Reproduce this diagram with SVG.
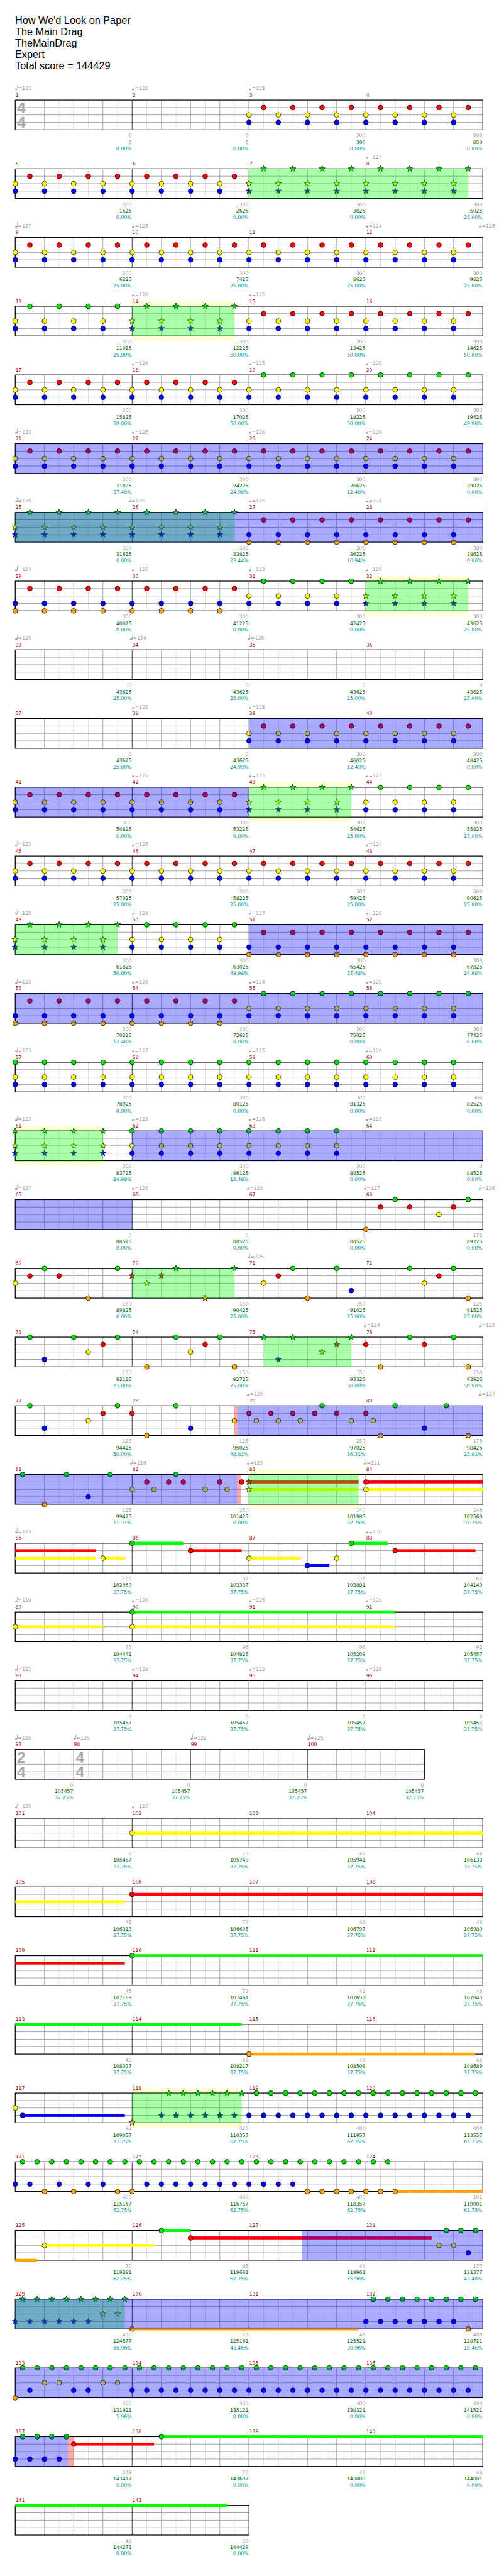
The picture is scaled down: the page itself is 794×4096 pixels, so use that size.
<svg xmlns="http://www.w3.org/2000/svg" width="794" height="4096" viewBox="0 0 794 4096">
<style>
text{font-family:"DejaVu Sans",sans-serif;font-size:10px}
.ti{font-family:"Liberation Sans",Arial,sans-serif;font-size:21px;fill:#000}
.ts{font-family:"Liberation Sans",Arial,sans-serif;font-size:32px;font-weight:bold;fill:#a8a8a8;text-anchor:middle}
.t{fill:#a0a0a0}
.m{fill:#990000}
.s{fill:#a0a0a0;text-anchor:end}
.c{fill:#006400;text-anchor:end}
.p{fill:#009999;text-anchor:end}
.G{fill:#00e000;stroke:#000;stroke-width:.9}
.R{fill:#f00;stroke:#000;stroke-width:.9}
.Y{fill:#ff0;stroke:#000;stroke-width:.9}
.B{fill:#00f;stroke:#000;stroke-width:.9}
.O{fill:#ffa500;stroke:#000;stroke-width:.9}
.l1{stroke:#dcdcdc;stroke-width:1;fill:none}
.l2{stroke:#a0a0a0;stroke-width:1.2;fill:none}
.l3{stroke:#000;stroke-width:1;fill:none}
.bd{fill:none;stroke:#000;stroke-width:1.6}
.og{fill:#0f0;fill-opacity:.333}
.ob{fill:#00f;fill-opacity:.333}
.or{fill:#f00;fill-opacity:.333}
.py{fill:#ffffd2}
.bG{fill:#0f0}.bR{fill:#f00}.bY{fill:#ff0}.bB{fill:#00f}.bO{fill:#ffa500}
</style>
<defs>
<circle id="g" r="5" class="G"/>
<circle id="r" cy="15.25" r="5" class="R"/>
<circle id="y" cy="30.5" r="5" class="Y"/>
<circle id="b" cy="45.75" r="5" class="B"/>
<circle id="o" cy="61" r="5" class="O"/>
<polygon id="sg" class="G" points="0,-6.5 1.6,-2.2 6.2,-2 2.6,0.8 3.8,5.3 0,2.7 -3.8,5.3 -2.6,0.8 -6.2,-2 -1.6,-2.2"/>
<polygon id="sr" class="R" transform="translate(0 15.25)" points="0,-6.5 1.6,-2.2 6.2,-2 2.6,0.8 3.8,5.3 0,2.7 -3.8,5.3 -2.6,0.8 -6.2,-2 -1.6,-2.2"/>
<polygon id="sy" class="Y" transform="translate(0 30.5)" points="0,-6.5 1.6,-2.2 6.2,-2 2.6,0.8 3.8,5.3 0,2.7 -3.8,5.3 -2.6,0.8 -6.2,-2 -1.6,-2.2"/>
<polygon id="sb" class="B" transform="translate(0 45.75)" points="0,-6.5 1.6,-2.2 6.2,-2 2.6,0.8 3.8,5.3 0,2.7 -3.8,5.3 -2.6,0.8 -6.2,-2 -1.6,-2.2"/>
<polygon id="so" class="O" transform="translate(0 61)" points="0,-6.5 1.6,-2.2 6.2,-2 2.6,0.8 3.8,5.3 0,2.7 -3.8,5.3 -2.6,0.8 -6.2,-2 -1.6,-2.2"/>
<g id="pA"><use href="#y"/><use href="#b"/><use href="#r" x="30"/><use href="#y" x="60"/><use href="#b" x="60"/><use href="#r" x="90"/><use href="#y" x="120"/><use href="#b" x="120"/><use href="#r" x="150"/><use href="#y" x="180"/><use href="#b" x="180"/><use href="#r" x="210"/></g>
<g id="pAG"><use href="#y"/><use href="#b"/><use href="#g" x="30"/><use href="#y" x="60"/><use href="#b" x="60"/><use href="#g" x="90"/><use href="#y" x="120"/><use href="#b" x="120"/><use href="#g" x="150"/><use href="#y" x="180"/><use href="#b" x="180"/><use href="#g" x="210"/></g>
<g id="sAG"><use href="#sy"/><use href="#sb"/><use href="#sg" x="30"/><use href="#sy" x="60"/><use href="#sb" x="60"/><use href="#sg" x="90"/><use href="#sy" x="120"/><use href="#sb" x="120"/><use href="#sg" x="150"/><use href="#sy" x="180"/><use href="#sb" x="180"/><use href="#sg" x="210"/></g>
<g id="pC"><use href="#b"/><use href="#o"/><use href="#r" x="30"/><use href="#b" x="60"/><use href="#o" x="60"/><use href="#r" x="90"/><use href="#b" x="120"/><use href="#o" x="120"/><use href="#r" x="150"/><use href="#b" x="180"/><use href="#o" x="180"/><use href="#r" x="210"/></g>
<g id="pD"><use href="#g"/><use href="#y"/><use href="#b"/><use href="#g" x="60"/><use href="#y" x="60"/><use href="#b" x="60"/><use href="#g" x="120"/><use href="#y" x="120"/><use href="#b" x="120"/><use href="#g" x="180"/><use href="#y" x="180"/><use href="#b" x="180"/></g>
<g id="sD"><use href="#sg"/><use href="#sy"/><use href="#sb"/><use href="#sg" x="60"/><use href="#sy" x="60"/><use href="#sb" x="60"/><use href="#sg" x="120"/><use href="#sy" x="120"/><use href="#sb" x="120"/><use href="#sg" x="180"/><use href="#sy" x="180"/><use href="#sb" x="180"/></g>
<g id="pG8"><use href="#g" x="15"/><use href="#g" x="45"/><use href="#g" x="75"/><use href="#g" x="105"/><use href="#g" x="135"/><use href="#g" x="165"/><use href="#g" x="195"/><use href="#g" x="225"/></g>
<g id="sG8"><use href="#sg" x="15"/><use href="#sg" x="45"/><use href="#sg" x="75"/><use href="#sg" x="105"/><use href="#sg" x="135"/><use href="#sg" x="165"/><use href="#sg" x="195"/><use href="#sg" x="225"/></g>
<g id="pE"><use href="#pG8"/><use href="#b"/><use href="#b" x="30"/><use href="#b" x="60"/><use href="#b" x="90"/><use href="#b" x="120"/><use href="#b" x="150"/><use href="#b" x="180"/><use href="#b" x="210"/></g>
<g id="grid">
<rect width="960" height="61" fill="#fff"/>
<path class="l1" d="M30 0v61M90 0v61M150 0v61M210 0v61M270 0v61M330 0v61M390 0v61M450 0v61M510 0v61M570 0v61M630 0v61M690 0v61M750 0v61M810 0v61M870 0v61M930 0v61"/>
<path class="l2" d="M60 0v61M120 0v61M180 0v61M300 0v61M360 0v61M420 0v61M540 0v61M600 0v61M660 0v61M780 0v61M840 0v61M900 0v61M0 15.25H960M0 30.5H960M0 45.75H960"/>
<path class="l3" d="M240 0v61M480 0v61M720 0v61"/>
<rect class="bd" width="960" height="61"/>
</g>
<g id="grid25">
<rect width="840" height="61" fill="#fff"/>
<path class="l1" d="M30 0v61M90 0v61M150 0v61M210 0v61M270 0v61M330 0v61M390 0v61M450 0v61M510 0v61M570 0v61M630 0v61M690 0v61M750 0v61M810 0v61"/>
<path class="l2" d="M60 0v61M180 0v61M240 0v61M300 0v61M420 0v61M480 0v61M540 0v61M660 0v61M720 0v61M780 0v61M0 15.25H840M0 30.5H840M0 45.75H840"/>
<path class="l3" d="M120 0v61M360 0v61M600 0v61"/>
<rect class="bd" width="840" height="61"/>
</g>
<g id="grid36">
<rect width="480" height="61" fill="#fff"/>
<path class="l1" d="M30 0v61M90 0v61M150 0v61M210 0v61M270 0v61M330 0v61M390 0v61M450 0v61"/>
<path class="l2" d="M60 0v61M120 0v61M180 0v61M300 0v61M360 0v61M420 0v61M0 15.25H480M0 30.5H480M0 45.75H480"/>
<path class="l3" d="M240 0v61"/>
<rect class="bd" width="480" height="61"/>
</g>
<g id="tm" fill="#a0a0a0"><ellipse cx="2" cy="-22" rx="2.3" ry="1.8"/><rect x="3.6" y="-31" width="0.9" height="9"/></g>
</defs>
<g transform="scale(0.775)">
<g id="title">
<text class="ti" x="31" y="49.5">How We'd Look on Paper</text>
<text class="ti" x="31" y="72.8">The Main Drag</text>
<text class="ti" x="31" y="96">TheMainDrag</text>
<text class="ti" x="31" y="119.3">Expert</text>
<text class="ti" x="31" y="142.5">Total score = 144429</text>
</g>

<g id="row1" transform="translate(31.3 205.3)">
<use href="#grid"/>
<text class="ts" x="12.5" y="27">4</text><text class="ts" x="12.5" y="57">4</text>
<use href="#pA" x="480"/><use href="#pA" x="720"/>
<text class="m" x="0.5" y="-7">1</text><text class="m" x="240.5" y="-7">2</text><text class="m" x="480.5" y="-7">3</text><text class="m" x="720.5" y="-7">4</text>
<use href="#tm"/><text class="t" x="5.5" y="-20.5">=123</text><use href="#tm" x="240"/><text class="t" x="245.5" y="-20.5">=122</text><use href="#tm" x="480"/><text class="t" x="485.5" y="-20.5">=125</text>
<text class="s" x="239" y="76.3">0</text><text class="c" x="239" y="89.7">0</text><text class="p" x="239" y="102.8">0.00%</text>
<text class="s" x="479" y="76.3">0</text><text class="c" x="479" y="89.7">0</text><text class="p" x="479" y="102.8">0.00%</text>
<text class="s" x="719" y="76.3">300</text><text class="c" x="719" y="89.7">300</text><text class="p" x="719" y="102.8">0.00%</text>
<text class="s" x="959" y="76.3">300</text><text class="c" x="959" y="89.7">850</text><text class="p" x="959" y="102.8">0.00%</text>
</g>

<g id="row2" transform="translate(31.3 346.3)">
<use href="#grid"/>
<use href="#pA"/><use href="#pA" x="240"/><use href="#sAG" x="480"/><use href="#sAG" x="720"/>
<rect class="og" x="480" width="450" height="61"/>
<text class="m" x="0.5" y="-7">5</text><text class="m" x="240.5" y="-7">6</text><text class="m" x="480.5" y="-7">7</text><text class="m" x="720.5" y="-7">8</text>
<use href="#tm" x="720"/><text class="t" x="725.5" y="-20.5">=124</text>
<text class="s" x="239" y="76.3">300</text><text class="c" x="239" y="89.7">1625</text><text class="p" x="239" y="102.8">0.00%</text>
<text class="s" x="479" y="76.3">300</text><text class="c" x="479" y="89.7">2625</text><text class="p" x="479" y="102.8">0.00%</text>
<text class="s" x="719" y="76.3">300</text><text class="c" x="719" y="89.7">3825</text><text class="p" x="719" y="102.8">0.00%</text>
<text class="s" x="959" y="76.3">300</text><text class="c" x="959" y="89.7">5025</text><text class="p" x="959" y="102.8">25.00%</text>
</g>

<g id="row3" transform="translate(31.3 487.3)">
<use href="#grid"/>
<use href="#pA"/><use href="#pA" x="240"/><use href="#pA" x="480"/><use href="#pA" x="720"/>
<text class="m" x="0.5" y="-7">9</text><text class="m" x="240.5" y="-7">10</text><text class="m" x="480.5" y="-7">11</text><text class="m" x="720.5" y="-7">12</text>
<use href="#tm"/><text class="t" x="5.5" y="-20.5">=127</text><use href="#tm" x="240"/><text class="t" x="245.5" y="-20.5">=125</text><use href="#tm" x="720"/><text class="t" x="725.5" y="-20.5">=124</text><use href="#tm" x="952"/><text class="t" x="957.5" y="-20.5">=125</text>
<text class="s" x="239" y="76.3">300</text><text class="c" x="239" y="89.7">6225</text><text class="p" x="239" y="102.8">25.00%</text>
<text class="s" x="479" y="76.3">300</text><text class="c" x="479" y="89.7">7425</text><text class="p" x="479" y="102.8">25.00%</text>
<text class="s" x="719" y="76.3">300</text><text class="c" x="719" y="89.7">8625</text><text class="p" x="719" y="102.8">25.00%</text>
<text class="s" x="959" y="76.3">300</text><text class="c" x="959" y="89.7">9825</text><text class="p" x="959" y="102.8">25.00%</text>
</g>

<g id="row4" transform="translate(31.3 628.3)">
<rect class="py" x="240" y="-10" width="210" height="81"/>
<use href="#grid"/>
<use href="#pAG"/><use href="#sAG" x="240"/><use href="#pA" x="480"/><use href="#pA" x="720"/>
<rect class="og" x="240" width="210" height="61"/>
<text class="m" x="0.5" y="-7">13</text><text class="m" x="240.5" y="-7">14</text><text class="m" x="480.5" y="-7">15</text><text class="m" x="720.5" y="-7">16</text>
<use href="#tm" x="240"/><text class="t" x="245.5" y="-20.5">=126</text><use href="#tm" x="480"/><text class="t" x="485.5" y="-20.5">=125</text>
<text class="s" x="239" y="76.3">300</text><text class="c" x="239" y="89.7">11025</text><text class="p" x="239" y="102.8">25.00%</text>
<text class="s" x="479" y="76.3">300</text><text class="c" x="479" y="89.7">12225</text><text class="p" x="479" y="102.8">50.00%</text>
<text class="s" x="719" y="76.3">300</text><text class="c" x="719" y="89.7">13425</text><text class="p" x="719" y="102.8">50.00%</text>
<text class="s" x="959" y="76.3">300</text><text class="c" x="959" y="89.7">14625</text><text class="p" x="959" y="102.8">50.00%</text>
</g>

<g id="row5" transform="translate(31.3 769.3)">
<use href="#grid"/>
<use href="#pA"/><use href="#pA" x="240"/><use href="#pAG" x="480"/><use href="#pAG" x="720"/>
<text class="m" x="0.5" y="-7">17</text><text class="m" x="240.5" y="-7">18</text><text class="m" x="480.5" y="-7">19</text><text class="m" x="720.5" y="-7">20</text>
<use href="#tm" x="240"/><text class="t" x="245.5" y="-20.5">=126</text><use href="#tm" x="480"/><text class="t" x="485.5" y="-20.5">=125</text><use href="#tm" x="720"/><text class="t" x="725.5" y="-20.5">=126</text>
<text class="s" x="239" y="76.3">300</text><text class="c" x="239" y="89.7">15825</text><text class="p" x="239" y="102.8">50.00%</text>
<text class="s" x="479" y="76.3">300</text><text class="c" x="479" y="89.7">17025</text><text class="p" x="479" y="102.8">50.00%</text>
<text class="s" x="719" y="76.3">300</text><text class="c" x="719" y="89.7">18225</text><text class="p" x="719" y="102.8">50.00%</text>
<text class="s" x="959" y="76.3">300</text><text class="c" x="959" y="89.7">19425</text><text class="p" x="959" y="102.8">49.98%</text>
</g>

<g id="row6" transform="translate(31.3 910.3)">
<use href="#grid"/>
<use href="#pA"/><use href="#pA" x="240"/><use href="#pA" x="480"/><use href="#pA" x="720"/>
<rect class="ob" width="960" height="61"/>
<text class="m" x="0.5" y="-7">21</text><text class="m" x="240.5" y="-7">22</text><text class="m" x="480.5" y="-7">23</text><text class="m" x="720.5" y="-7">24</text>
<use href="#tm"/><text class="t" x="5.5" y="-20.5">=123</text><use href="#tm" x="240"/><text class="t" x="245.5" y="-20.5">=125</text><use href="#tm" x="480"/><text class="t" x="485.5" y="-20.5">=126</text><use href="#tm" x="720"/><text class="t" x="725.5" y="-20.5">=126</text>
<text class="s" x="239" y="76.3">300</text><text class="c" x="239" y="89.7">21825</text><text class="p" x="239" y="102.8">37.48%</text>
<text class="s" x="479" y="76.3">300</text><text class="c" x="479" y="89.7">24225</text><text class="p" x="479" y="102.8">24.98%</text>
<text class="s" x="719" y="76.3">300</text><text class="c" x="719" y="89.7">26625</text><text class="p" x="719" y="102.8">12.48%</text>
<text class="s" x="959" y="76.3">300</text><text class="c" x="959" y="89.7">29025</text><text class="p" x="959" y="102.8">0.00%</text>
</g>

<g id="row7" transform="translate(31.3 1051.3)">
<use href="#grid"/>
<use href="#sAG"/><use href="#sAG" x="240"/><use href="#pC" x="480"/><use href="#pC" x="720"/>
<rect class="og" width="450" height="61"/>
<rect class="ob" width="960" height="61"/>
<text class="m" x="0.5" y="-7">25</text><text class="m" x="240.5" y="-7">26</text><text class="m" x="480.5" y="-7">27</text><text class="m" x="720.5" y="-7">28</text>
<use href="#tm"/><text class="t" x="5.5" y="-20.5">=125</text><use href="#tm" x="233"/><text class="t" x="238.5" y="-20.5">=125</text><use href="#tm" x="480"/><text class="t" x="485.5" y="-20.5">=125</text><use href="#tm" x="720"/><text class="t" x="725.5" y="-20.5">=124</text>
<text class="s" x="239" y="76.3">300</text><text class="c" x="239" y="89.7">31625</text><text class="p" x="239" y="102.8">0.00%</text>
<text class="s" x="479" y="76.3">300</text><text class="c" x="479" y="89.7">33825</text><text class="p" x="479" y="102.8">23.44%</text>
<text class="s" x="719" y="76.3">300</text><text class="c" x="719" y="89.7">36225</text><text class="p" x="719" y="102.8">10.94%</text>
<text class="s" x="959" y="76.3">300</text><text class="c" x="959" y="89.7">38625</text><text class="p" x="959" y="102.8">0.00%</text>
</g>

<g id="row8" transform="translate(31.3 1192.3)">
<rect class="py" x="720" y="-10" width="210" height="81"/>
<use href="#grid"/>
<use href="#pC"/><use href="#pC" x="240"/><use href="#pAG" x="480"/><use href="#sAG" x="720"/>
<rect class="og" x="720" width="210" height="61"/>
<text class="m" x="0.5" y="-7">29</text><text class="m" x="240.5" y="-7">30</text><text class="m" x="480.5" y="-7">31</text><text class="m" x="720.5" y="-7">32</text>
<use href="#tm"/><text class="t" x="5.5" y="-20.5">=124</text><use href="#tm" x="240"/><text class="t" x="245.5" y="-20.5">=125</text><use href="#tm" x="480"/><text class="t" x="485.5" y="-20.5">=123</text><use href="#tm" x="720"/><text class="t" x="725.5" y="-20.5">=126</text>
<text class="s" x="239" y="76.3">300</text><text class="c" x="239" y="89.7">40025</text><text class="p" x="239" y="102.8">0.00%</text>
<text class="s" x="479" y="76.3">300</text><text class="c" x="479" y="89.7">41225</text><text class="p" x="479" y="102.8">0.00%</text>
<text class="s" x="719" y="76.3">300</text><text class="c" x="719" y="89.7">42425</text><text class="p" x="719" y="102.8">0.00%</text>
<text class="s" x="959" y="76.3">300</text><text class="c" x="959" y="89.7">43625</text><text class="p" x="959" y="102.8">25.00%</text>
</g>

<g id="row9" transform="translate(31.3 1333.3)">
<use href="#grid"/>
<text class="m" x="0.5" y="-7">33</text><text class="m" x="240.5" y="-7">34</text><text class="m" x="480.5" y="-7">35</text><text class="m" x="720.5" y="-7">36</text>
<use href="#tm"/><text class="t" x="5.5" y="-20.5">=125</text><use href="#tm" x="236"/><text class="t" x="241.5" y="-20.5">=124</text><use href="#tm" x="478"/><text class="t" x="483.5" y="-20.5">=126</text>
<text class="s" x="239" y="76.3">0</text><text class="c" x="239" y="89.7">43625</text><text class="p" x="239" y="102.8">25.00%</text>
<text class="s" x="479" y="76.3">0</text><text class="c" x="479" y="89.7">43625</text><text class="p" x="479" y="102.8">25.00%</text>
<text class="s" x="719" y="76.3">0</text><text class="c" x="719" y="89.7">43625</text><text class="p" x="719" y="102.8">25.00%</text>
<text class="s" x="959" y="76.3">0</text><text class="c" x="959" y="89.7">43625</text><text class="p" x="959" y="102.8">25.00%</text>
</g>

<g id="row10" transform="translate(31.3 1474.3)">
<use href="#grid"/>
<use href="#pA" x="480"/><use href="#pA" x="720"/>
<rect class="ob" x="480" width="480" height="61"/>
<text class="m" x="0.5" y="-7">37</text><text class="m" x="240.5" y="-7">38</text><text class="m" x="480.5" y="-7">39</text><text class="m" x="720.5" y="-7">40</text>
<use href="#tm" x="240"/><text class="t" x="245.5" y="-20.5">=125</text><use href="#tm" x="480"/><text class="t" x="485.5" y="-20.5">=125</text>
<text class="s" x="239" y="76.3">0</text><text class="c" x="239" y="89.7">43625</text><text class="p" x="239" y="102.8">25.00%</text>
<text class="s" x="479" y="76.3">0</text><text class="c" x="479" y="89.7">43625</text><text class="p" x="479" y="102.8">24.99%</text>
<text class="s" x="719" y="76.3">300</text><text class="c" x="719" y="89.7">46025</text><text class="p" x="719" y="102.8">12.49%</text>
<text class="s" x="959" y="76.3">300</text><text class="c" x="959" y="89.7">48425</text><text class="p" x="959" y="102.8">0.00%</text>
</g>

<g id="row11" transform="translate(31.3 1615.3)">
<rect class="py" x="480" y="-10" width="210" height="81"/>
<use href="#grid"/>
<use href="#pA"/><use href="#pA" x="240"/><use href="#sAG" x="480"/><use href="#pAG" x="720"/>
<rect class="og" x="480" width="210" height="61"/>
<rect class="ob" width="480" height="61"/>
<text class="m" x="0.5" y="-7">41</text><text class="m" x="240.5" y="-7">42</text><text class="m" x="480.5" y="-7">43</text><text class="m" x="720.5" y="-7">44</text>
<use href="#tm" x="240"/><text class="t" x="245.5" y="-20.5">=125</text><use href="#tm" x="480"/><text class="t" x="485.5" y="-20.5">=125</text><use href="#tm" x="720"/><text class="t" x="725.5" y="-20.5">=127</text>
<text class="s" x="239" y="76.3">300</text><text class="c" x="239" y="89.7">50825</text><text class="p" x="239" y="102.8">0.00%</text>
<text class="s" x="479" y="76.3">300</text><text class="c" x="479" y="89.7">53225</text><text class="p" x="479" y="102.8">0.00%</text>
<text class="s" x="719" y="76.3">300</text><text class="c" x="719" y="89.7">54625</text><text class="p" x="719" y="102.8">25.00%</text>
<text class="s" x="959" y="76.3">300</text><text class="c" x="959" y="89.7">55825</text><text class="p" x="959" y="102.8">25.00%</text>
</g>

<g id="row12" transform="translate(31.3 1756.3)">
<use href="#grid"/>
<use href="#pA"/><use href="#pA" x="240"/><use href="#pA" x="480"/><use href="#pA" x="720"/>
<text class="m" x="0.5" y="-7">45</text><text class="m" x="240.5" y="-7">46</text><text class="m" x="480.5" y="-7">47</text><text class="m" x="720.5" y="-7">48</text>
<use href="#tm"/><text class="t" x="5.5" y="-20.5">=123</text><use href="#tm" x="240"/><text class="t" x="245.5" y="-20.5">=125</text><use href="#tm" x="720"/><text class="t" x="725.5" y="-20.5">=124</text>
<text class="s" x="239" y="76.3">300</text><text class="c" x="239" y="89.7">57025</text><text class="p" x="239" y="102.8">25.00%</text>
<text class="s" x="479" y="76.3">300</text><text class="c" x="479" y="89.7">58225</text><text class="p" x="479" y="102.8">25.00%</text>
<text class="s" x="719" y="76.3">300</text><text class="c" x="719" y="89.7">59425</text><text class="p" x="719" y="102.8">25.00%</text>
<text class="s" x="959" y="76.3">300</text><text class="c" x="959" y="89.7">60625</text><text class="p" x="959" y="102.8">25.00%</text>
</g>

<g id="row13" transform="translate(31.3 1897.3)">
<use href="#grid"/>
<use href="#sAG"/><use href="#pAG" x="240"/><use href="#pC" x="480"/><use href="#pC" x="720"/>
<rect class="og" width="210" height="61"/>
<rect class="ob" x="480" width="480" height="61"/>
<text class="m" x="0.5" y="-7">49</text><text class="m" x="240.5" y="-7">50</text><text class="m" x="480.5" y="-7">51</text><text class="m" x="720.5" y="-7">52</text>
<use href="#tm"/><text class="t" x="5.5" y="-20.5">=125</text><use href="#tm" x="240"/><text class="t" x="245.5" y="-20.5">=124</text><use href="#tm" x="480"/><text class="t" x="485.5" y="-20.5">=127</text><use href="#tm" x="720"/><text class="t" x="725.5" y="-20.5">=126</text>
<text class="s" x="239" y="76.3">300</text><text class="c" x="239" y="89.7">61825</text><text class="p" x="239" y="102.8">50.00%</text>
<text class="s" x="479" y="76.3">300</text><text class="c" x="479" y="89.7">63025</text><text class="p" x="479" y="102.8">49.98%</text>
<text class="s" x="719" y="76.3">300</text><text class="c" x="719" y="89.7">65425</text><text class="p" x="719" y="102.8">37.48%</text>
<text class="s" x="959" y="76.3">300</text><text class="c" x="959" y="89.7">67825</text><text class="p" x="959" y="102.8">24.98%</text>
</g>

<g id="row14" transform="translate(31.3 2038.3)">
<use href="#grid"/>
<use href="#pC"/><use href="#pC" x="240"/><use href="#pAG" x="480"/><use href="#pAG" x="720"/>
<rect class="ob" width="960" height="61"/>
<text class="m" x="0.5" y="-7">53</text><text class="m" x="240.5" y="-7">54</text><text class="m" x="480.5" y="-7">55</text><text class="m" x="720.5" y="-7">56</text>
<use href="#tm"/><text class="t" x="5.5" y="-20.5">=125</text><use href="#tm" x="240"/><text class="t" x="245.5" y="-20.5">=126</text><use href="#tm" x="480"/><text class="t" x="485.5" y="-20.5">=124</text><use href="#tm" x="720"/><text class="t" x="725.5" y="-20.5">=125</text>
<text class="s" x="239" y="76.3">300</text><text class="c" x="239" y="89.7">70225</text><text class="p" x="239" y="102.8">12.48%</text>
<text class="s" x="479" y="76.3">300</text><text class="c" x="479" y="89.7">72625</text><text class="p" x="479" y="102.8">0.00%</text>
<text class="s" x="719" y="76.3">300</text><text class="c" x="719" y="89.7">75025</text><text class="p" x="719" y="102.8">0.00%</text>
<text class="s" x="959" y="76.3">300</text><text class="c" x="959" y="89.7">77425</text><text class="p" x="959" y="102.8">0.00%</text>
</g>

<g id="row15" transform="translate(31.3 2179.3)">
<use href="#grid"/>
<use href="#pD"/><use href="#pD" x="240"/><use href="#pD" x="480"/><use href="#pD" x="720"/>
<text class="m" x="0.5" y="-7">57</text><text class="m" x="240.5" y="-7">58</text><text class="m" x="480.5" y="-7">59</text><text class="m" x="720.5" y="-7">60</text>
<use href="#tm"/><text class="t" x="5.5" y="-20.5">=123</text><use href="#tm" x="240"/><text class="t" x="245.5" y="-20.5">=127</text><use href="#tm" x="480"/><text class="t" x="485.5" y="-20.5">=125</text><use href="#tm" x="720"/><text class="t" x="725.5" y="-20.5">=128</text>
<text class="s" x="239" y="76.3">300</text><text class="c" x="239" y="89.7">78925</text><text class="p" x="239" y="102.8">0.00%</text>
<text class="s" x="479" y="76.3">300</text><text class="c" x="479" y="89.7">80125</text><text class="p" x="479" y="102.8">0.00%</text>
<text class="s" x="719" y="76.3">300</text><text class="c" x="719" y="89.7">81325</text><text class="p" x="719" y="102.8">0.00%</text>
<text class="s" x="959" y="76.3">300</text><text class="c" x="959" y="89.7">82525</text><text class="p" x="959" y="102.8">0.00%</text>
</g>

<g id="row16" transform="translate(31.3 2320.3)">
<rect class="py" x="0" y="-10" width="180" height="81"/>
<use href="#grid"/>
<use href="#sD"/><use href="#pD" x="240"/><use href="#pD" x="480"/>
<rect class="og" width="180" height="61"/>
<rect class="ob" x="240" width="720" height="61"/>
<text class="m" x="0.5" y="-7">61</text><text class="m" x="240.5" y="-7">62</text><text class="m" x="480.5" y="-7">63</text><text class="m" x="720.5" y="-7">64</text>
<use href="#tm"/><text class="t" x="5.5" y="-20.5">=123</text><use href="#tm" x="240"/><text class="t" x="245.5" y="-20.5">=123</text><use href="#tm" x="480"/><text class="t" x="485.5" y="-20.5">=126</text><use href="#tm" x="720"/><text class="t" x="725.5" y="-20.5">=126</text>
<text class="s" x="239" y="76.3">300</text><text class="c" x="239" y="89.7">83725</text><text class="p" x="239" y="102.8">24.98%</text>
<text class="s" x="479" y="76.3">300</text><text class="c" x="479" y="89.7">86125</text><text class="p" x="479" y="102.8">12.48%</text>
<text class="s" x="719" y="76.3">300</text><text class="c" x="719" y="89.7">88525</text><text class="p" x="719" y="102.8">0.00%</text>
<text class="s" x="959" y="76.3">0</text><text class="c" x="959" y="89.7">88525</text><text class="p" x="959" y="102.8">0.00%</text>
</g>

<g id="row17" transform="translate(31.3 2461.3)">
<use href="#grid"/>
<use href="#o" x="720"/><use href="#r" x="750"/><use href="#g" x="780"/><use href="#r" x="810"/><use href="#y" x="870"/><use href="#r" x="900"/><use href="#g" x="930"/>
<rect class="ob" width="240" height="61"/>
<text class="m" x="0.5" y="-7">65</text><text class="m" x="240.5" y="-7">66</text><text class="m" x="480.5" y="-7">67</text><text class="m" x="720.5" y="-7">68</text>
<use href="#tm"/><text class="t" x="5.5" y="-20.5">=127</text><use href="#tm" x="240"/><text class="t" x="245.5" y="-20.5">=125</text><use href="#tm" x="476"/><text class="t" x="481.5" y="-20.5">=128</text><use href="#tm" x="716"/><text class="t" x="721.5" y="-20.5">=127</text><use href="#tm" x="952"/><text class="t" x="957.5" y="-20.5">=126</text>
<text class="s" x="239" y="76.3">0</text><text class="c" x="239" y="89.7">88525</text><text class="p" x="239" y="102.8">0.00%</text>
<text class="s" x="479" y="76.3">0</text><text class="c" x="479" y="89.7">88525</text><text class="p" x="479" y="102.8">0.00%</text>
<text class="s" x="719" y="76.3">0</text><text class="c" x="719" y="89.7">88525</text><text class="p" x="719" y="102.8">0.00%</text>
<text class="s" x="959" y="76.3">175</text><text class="c" x="959" y="89.7">89225</text><text class="p" x="959" y="102.8">0.00%</text>
</g>

<g id="row18" transform="translate(31.3 2602.3)">
<use href="#grid"/>
<use href="#y"/><use href="#r" x="30"/><use href="#g" x="60"/><use href="#r" x="90"/><use href="#o" x="150"/><use href="#g" x="210"/>
<use href="#sr" x="240"/><use href="#sy" x="270"/><use href="#sr" x="300"/><use href="#sg" x="330"/><use href="#so" x="390"/><use href="#sg" x="450"/>
<use href="#y" x="510"/><use href="#r" x="540"/><use href="#g" x="570"/><use href="#o" x="600"/><use href="#g" x="660"/><use href="#b" x="690"/>
<use href="#g" x="810"/><use href="#y" x="840"/><use href="#r" x="870"/><use href="#g" x="900"/><use href="#o" x="930"/>
<rect class="og" x="240" width="210" height="61"/>
<text class="m" x="0.5" y="-7">69</text><text class="m" x="240.5" y="-7">70</text><text class="m" x="480.5" y="-7">71</text><text class="m" x="720.5" y="-7">72</text>
<use href="#tm" x="478"/><text class="t" x="483.5" y="-20.5">=125</text>
<text class="s" x="239" y="76.3">150</text><text class="c" x="239" y="89.7">89825</text><text class="p" x="239" y="102.8">0.00%</text>
<text class="s" x="479" y="76.3">150</text><text class="c" x="479" y="89.7">90425</text><text class="p" x="479" y="102.8">25.00%</text>
<text class="s" x="719" y="76.3">150</text><text class="c" x="719" y="89.7">91025</text><text class="p" x="719" y="102.8">25.00%</text>
<text class="s" x="959" y="76.3">125</text><text class="c" x="959" y="89.7">91525</text><text class="p" x="959" y="102.8">25.00%</text>
</g>

<g id="row19" transform="translate(31.3 2743.3)">
<use href="#grid"/>
<use href="#g" x="30"/><use href="#b" x="60"/><use href="#g" x="120"/><use href="#y" x="150"/><use href="#r" x="180"/><use href="#g" x="210"/>
<use href="#o" x="270"/><use href="#g" x="330"/><use href="#y" x="360"/><use href="#r" x="390"/><use href="#g" x="420"/><use href="#o" x="450"/>
<use href="#sg" x="510"/><use href="#sb" x="540"/><use href="#sg" x="570"/><use href="#sy" x="630"/><use href="#sr" x="660"/><use href="#sg" x="690"/>
<use href="#r" x="720"/><use href="#o" x="750"/><use href="#g" x="810"/><use href="#r" x="840"/><use href="#g" x="900"/><use href="#o" x="930"/>
<rect class="og" x="510" width="180" height="61"/>
<text class="m" x="0.5" y="-7">73</text><text class="m" x="240.5" y="-7">74</text><text class="m" x="480.5" y="-7">75</text><text class="m" x="720.5" y="-7">76</text>
<use href="#tm" x="716"/><text class="t" x="721.5" y="-20.5">=124</text><use href="#tm" x="952"/><text class="t" x="957.5" y="-20.5">=125</text>
<text class="s" x="239" y="76.3">150</text><text class="c" x="239" y="89.7">92125</text><text class="p" x="239" y="102.8">25.00%</text>
<text class="s" x="479" y="76.3">150</text><text class="c" x="479" y="89.7">92725</text><text class="p" x="479" y="102.8">25.00%</text>
<text class="s" x="719" y="76.3">150</text><text class="c" x="719" y="89.7">93325</text><text class="p" x="719" y="102.8">50.00%</text>
<text class="s" x="959" y="76.3">150</text><text class="c" x="959" y="89.7">93925</text><text class="p" x="959" y="102.8">50.00%</text>
</g>

<g id="row20" transform="translate(31.3 2884.3)">
<use href="#grid"/>
<use href="#g" x="30"/><use href="#b" x="60"/><use href="#y" x="150"/><use href="#r" x="180"/><use href="#g" x="210"/>
<use href="#r" x="240"/><use href="#o" x="270"/><use href="#g" x="330"/><use href="#b" x="360"/><use href="#y" x="450"/>
<use href="#r" x="480"/><use href="#y" x="495"/><use href="#r" x="525"/><use href="#y" x="540"/><use href="#r" x="570"/><use href="#y" x="585"/><use href="#r" x="615"/><use href="#g" x="630"/><use href="#r" x="660"/><use href="#y" x="690"/>
<use href="#r" x="720"/><use href="#y" x="735"/><use href="#o" x="750"/><use href="#g" x="780"/><use href="#b" x="840"/><use href="#g" x="885"/><use href="#o" x="930"/>
<rect class="or" x="450" width="6" height="61"/>
<rect class="ob" x="456" width="504" height="61"/>
<text class="m" x="0.5" y="-7">77</text><text class="m" x="240.5" y="-7">78</text><text class="m" x="480.5" y="-7">79</text><text class="m" x="720.5" y="-7">80</text>
<use href="#tm" x="476"/><text class="t" x="481.5" y="-20.5">=126</text><use href="#tm" x="952"/><text class="t" x="957.5" y="-20.5">=127</text>
<text class="s" x="239" y="76.3">125</text><text class="c" x="239" y="89.7">94425</text><text class="p" x="239" y="102.8">50.00%</text>
<text class="s" x="479" y="76.3">125</text><text class="c" x="479" y="89.7">95025</text><text class="p" x="479" y="102.8">48.81%</text>
<text class="s" x="719" y="76.3">250</text><text class="c" x="719" y="89.7">97025</text><text class="p" x="719" y="102.8">36.31%</text>
<text class="s" x="959" y="76.3">175</text><text class="c" x="959" y="89.7">98425</text><text class="p" x="959" y="102.8">23.81%</text>
</g>

<g id="row21" transform="translate(31.3 3025.3)">
<rect class="py" x="480" y="-10" width="225" height="81"/>
<use href="#grid"/>
<rect class="bR" x="480" y="12.25" width="225" height="6"/><rect class="bY" x="480" y="27.5" width="225" height="6"/>
<rect class="bR" x="720" y="12.25" width="240" height="6"/><rect class="bY" x="720" y="27.5" width="240" height="6"/>
<use href="#g" x="15"/><use href="#o" x="60"/><use href="#g" x="105"/><use href="#b" x="150"/><use href="#g" x="195"/>
<use href="#y" x="240"/><use href="#r" x="270"/><use href="#y" x="285"/><use href="#r" x="315"/><use href="#g" x="330"/><use href="#r" x="345"/><use href="#y" x="390"/><use href="#r" x="420"/><use href="#y" x="435"/><use href="#r" x="465"/>
<use href="#sr" x="480"/><use href="#sy" x="480"/><use href="#r" x="720"/><use href="#y" x="720"/>
<rect class="ob" width="456" height="61"/>
<rect class="or" x="456" width="8" height="61"/>
<rect class="og" x="480" width="225" height="61"/>
<text class="m" x="0.5" y="-7">81</text><text class="m" x="240.5" y="-7">82</text><text class="m" x="480.5" y="-7">83</text><text class="m" x="720.5" y="-7">84</text>
<use href="#tm" x="236"/><text class="t" x="241.5" y="-20.5">=126</text><use href="#tm" x="476"/><text class="t" x="481.5" y="-20.5">=125</text><use href="#tm" x="716"/><text class="t" x="721.5" y="-20.5">=121</text>
<text class="s" x="239" y="76.3">125</text><text class="c" x="239" y="89.7">99425</text><text class="p" x="239" y="102.8">11.31%</text>
<text class="s" x="479" y="76.3">250</text><text class="c" x="479" y="89.7">101425</text><text class="p" x="479" y="102.8">0.00%</text>
<text class="s" x="719" y="76.3">140</text><text class="c" x="719" y="89.7">101985</text><text class="p" x="719" y="102.8">37.75%</text>
<text class="s" x="959" y="76.3">146</text><text class="c" x="959" y="89.7">102569</text><text class="p" x="959" y="102.8">37.75%</text>
</g>

<g id="row22" transform="translate(31.3 3166.3)">
<use href="#grid"/>
<rect class="bR" x="0" y="12.25" width="165" height="6"/><rect class="bY" x="0" y="27.5" width="165" height="6"/>
<rect class="bY" x="180" y="27.5" width="45" height="6"/><rect class="bG" x="240" y="-3" width="105" height="6"/>
<rect class="bR" x="360" y="12.25" width="105" height="6"/><rect class="bY" x="480" y="27.5" width="105" height="6"/>
<rect class="bB" x="600" y="42.75" width="45" height="6"/><rect class="bG" x="690" y="-3" width="75" height="6"/>
<rect class="bR" x="780" y="12.25" width="165" height="6"/>
<use href="#y" x="180"/><use href="#g" x="240"/><use href="#r" x="360"/><use href="#y" x="480"/><use href="#b" x="600"/><use href="#y" x="660"/><use href="#g" x="690"/><use href="#r" x="780"/>
<text class="m" x="0.5" y="-7">85</text><text class="m" x="240.5" y="-7">86</text><text class="m" x="480.5" y="-7">87</text><text class="m" x="720.5" y="-7">88</text>
<use href="#tm"/><text class="t" x="5.5" y="-20.5">=125</text><use href="#tm" x="720"/><text class="t" x="725.5" y="-20.5">=130</text>
<text class="s" x="239" y="76.3">100</text><text class="c" x="239" y="89.7">102969</text><text class="p" x="239" y="102.8">37.75%</text>
<text class="s" x="479" y="76.3">92</text><text class="c" x="479" y="89.7">103337</text><text class="p" x="479" y="102.8">37.75%</text>
<text class="s" x="719" y="76.3">136</text><text class="c" x="719" y="89.7">103881</text><text class="p" x="719" y="102.8">37.75%</text>
<text class="s" x="959" y="76.3">67</text><text class="c" x="959" y="89.7">104149</text><text class="p" x="959" y="102.8">37.75%</text>
</g>

<g id="row23" transform="translate(31.3 3307.3)">
<use href="#grid"/>
<rect class="bY" x="0" y="27.5" width="180" height="6"/><rect class="bG" x="240" y="-3" width="540" height="6"/><rect class="bY" x="240" y="27.5" width="540" height="6"/>
<use href="#y"/><use href="#g" x="240"/><use href="#y" x="240"/>
<text class="m" x="0.5" y="-7">89</text><text class="m" x="240.5" y="-7">90</text><text class="m" x="480.5" y="-7">91</text><text class="m" x="720.5" y="-7">92</text>
<use href="#tm"/><text class="t" x="5.5" y="-20.5">=119</text><use href="#tm" x="240"/><text class="t" x="245.5" y="-20.5">=126</text><use href="#tm" x="480"/><text class="t" x="485.5" y="-20.5">=125</text><use href="#tm" x="720"/><text class="t" x="725.5" y="-20.5">=128</text>
<text class="s" x="239" y="76.3">73</text><text class="c" x="239" y="89.7">104441</text><text class="p" x="239" y="102.8">37.75%</text>
<text class="s" x="479" y="76.3">96</text><text class="c" x="479" y="89.7">104825</text><text class="p" x="479" y="102.8">37.75%</text>
<text class="s" x="719" y="76.3">96</text><text class="c" x="719" y="89.7">105209</text><text class="p" x="719" y="102.8">37.75%</text>
<text class="s" x="959" y="76.3">62</text><text class="c" x="959" y="89.7">105457</text><text class="p" x="959" y="102.8">37.75%</text>
</g>

<g id="row24" transform="translate(31.3 3448.3)">
<use href="#grid"/>
<text class="m" x="0.5" y="-7">93</text><text class="m" x="240.5" y="-7">94</text><text class="m" x="480.5" y="-7">95</text><text class="m" x="720.5" y="-7">96</text>
<use href="#tm"/><text class="t" x="5.5" y="-20.5">=122</text><use href="#tm" x="240"/><text class="t" x="245.5" y="-20.5">=128</text><use href="#tm" x="480"/><text class="t" x="485.5" y="-20.5">=122</text><use href="#tm" x="720"/><text class="t" x="725.5" y="-20.5">=129</text>
<text class="s" x="239" y="76.3">0</text><text class="c" x="239" y="89.7">105457</text><text class="p" x="239" y="102.8">37.75%</text>
<text class="s" x="479" y="76.3">0</text><text class="c" x="479" y="89.7">105457</text><text class="p" x="479" y="102.8">37.75%</text>
<text class="s" x="719" y="76.3">0</text><text class="c" x="719" y="89.7">105457</text><text class="p" x="719" y="102.8">37.75%</text>
<text class="s" x="959" y="76.3">0</text><text class="c" x="959" y="89.7">105457</text><text class="p" x="959" y="102.8">37.75%</text>
</g>

<g id="row25" transform="translate(31.3 3589.3)">
<use href="#grid25"/>
<text class="ts" x="12.5" y="27">2</text><text class="ts" x="12.5" y="57">4</text>
<text class="ts" x="133" y="27">4</text><text class="ts" x="133" y="57">4</text>
<text class="m" x="0.5" y="-7">97</text><text class="m" x="120.5" y="-7">98</text><text class="m" x="360.5" y="-7">99</text><text class="m" x="600.5" y="-7">100</text>
<use href="#tm"/><text class="t" x="5.5" y="-20.5">=125</text><use href="#tm" x="120"/><text class="t" x="125.5" y="-20.5">=125</text><use href="#tm" x="360"/><text class="t" x="365.5" y="-20.5">=122</text><use href="#tm" x="600"/><text class="t" x="605.5" y="-20.5">=125</text>
<text class="s" x="119" y="76.3">0</text><text class="c" x="119" y="89.7">105457</text><text class="p" x="119" y="102.8">37.75%</text>
<text class="s" x="359" y="76.3">0</text><text class="c" x="359" y="89.7">105457</text><text class="p" x="359" y="102.8">37.75%</text>
<text class="s" x="599" y="76.3">0</text><text class="c" x="599" y="89.7">105457</text><text class="p" x="599" y="102.8">37.75%</text>
<text class="s" x="839" y="76.3">0</text><text class="c" x="839" y="89.7">105457</text><text class="p" x="839" y="102.8">37.75%</text>
</g>

<g id="row26" transform="translate(31.3 3730.3)">
<use href="#grid"/>
<rect class="bY" x="240" y="27.5" width="720" height="6"/><use href="#y" x="240"/>
<text class="m" x="0.5" y="-7">101</text><text class="m" x="240.5" y="-7">102</text><text class="m" x="480.5" y="-7">103</text><text class="m" x="720.5" y="-7">104</text>
<use href="#tm"/><text class="t" x="5.5" y="-20.5">=135</text><use href="#tm" x="240"/><text class="t" x="245.5" y="-20.5">=125</text>
<text class="s" x="239" y="76.3">0</text><text class="c" x="239" y="89.7">105457</text><text class="p" x="239" y="102.8">37.75%</text>
<text class="s" x="479" y="76.3">73</text><text class="c" x="479" y="89.7">105749</text><text class="p" x="479" y="102.8">37.75%</text>
<text class="s" x="719" y="76.3">48</text><text class="c" x="719" y="89.7">105941</text><text class="p" x="719" y="102.8">37.75%</text>
<text class="s" x="959" y="76.3">48</text><text class="c" x="959" y="89.7">106133</text><text class="p" x="959" y="102.8">37.75%</text>
</g>

<g id="row27" transform="translate(31.3 3871.3)">
<use href="#grid"/>
<rect class="bY" x="0" y="27.5" width="225" height="6"/><rect class="bR" x="240" y="12.25" width="720" height="6"/><use href="#r" x="240"/>
<text class="m" x="0.5" y="-7">105</text><text class="m" x="240.5" y="-7">106</text><text class="m" x="480.5" y="-7">107</text><text class="m" x="720.5" y="-7">108</text>
<text class="s" x="239" y="76.3">45</text><text class="c" x="239" y="89.7">106313</text><text class="p" x="239" y="102.8">37.75%</text>
<text class="s" x="479" y="76.3">73</text><text class="c" x="479" y="89.7">106605</text><text class="p" x="479" y="102.8">37.75%</text>
<text class="s" x="719" y="76.3">48</text><text class="c" x="719" y="89.7">106797</text><text class="p" x="719" y="102.8">37.75%</text>
<text class="s" x="959" y="76.3">48</text><text class="c" x="959" y="89.7">106989</text><text class="p" x="959" y="102.8">37.75%</text>
</g>

<g id="row28" transform="translate(31.3 4012.3)">
<use href="#grid"/>
<rect class="bR" x="0" y="12.25" width="225" height="6"/><rect class="bG" x="240" y="-3" width="720" height="6"/><use href="#g" x="240"/>
<text class="m" x="0.5" y="-7">109</text><text class="m" x="240.5" y="-7">110</text><text class="m" x="480.5" y="-7">111</text><text class="m" x="720.5" y="-7">112</text>
<text class="s" x="239" y="76.3">45</text><text class="c" x="239" y="89.7">107169</text><text class="p" x="239" y="102.8">37.75%</text>
<text class="s" x="479" y="76.3">73</text><text class="c" x="479" y="89.7">107461</text><text class="p" x="479" y="102.8">37.75%</text>
<text class="s" x="719" y="76.3">48</text><text class="c" x="719" y="89.7">107653</text><text class="p" x="719" y="102.8">37.75%</text>
<text class="s" x="959" y="76.3">48</text><text class="c" x="959" y="89.7">107845</text><text class="p" x="959" y="102.8">37.75%</text>
</g>

<g id="row29" transform="translate(31.3 4153.3)">
<use href="#grid"/>
<rect class="bG" x="0" y="-3" width="465" height="6"/><rect class="bO" x="480" y="58" width="465" height="6"/><use href="#o" x="480"/>
<text class="m" x="0.5" y="-7">113</text><text class="m" x="240.5" y="-7">114</text><text class="m" x="480.5" y="-7">115</text><text class="m" x="720.5" y="-7">116</text>
<text class="s" x="239" y="76.3">48</text><text class="c" x="239" y="89.7">108037</text><text class="p" x="239" y="102.8">37.75%</text>
<text class="s" x="479" y="76.3">45</text><text class="c" x="479" y="89.7">108217</text><text class="p" x="479" y="102.8">37.75%</text>
<text class="s" x="719" y="76.3">73</text><text class="c" x="719" y="89.7">108509</text><text class="p" x="719" y="102.8">37.75%</text>
<text class="s" x="959" y="76.3">45</text><text class="c" x="959" y="89.7">108689</text><text class="p" x="959" y="102.8">37.75%</text>
</g>

<g id="row30" transform="translate(31.3 4294.3)">
<rect class="py" x="240" y="-10" width="225" height="81"/>
<use href="#grid"/>
<rect class="bB" x="15" y="42.75" width="210" height="6"/>
<use href="#y"/><use href="#b" x="15"/>
<use href="#so" x="240"/><use href="#sb" x="300"/><use href="#sb" x="330"/><use href="#sb" x="360"/><use href="#sb" x="390"/><use href="#sb" x="420"/><use href="#sb" x="450"/>
<use href="#sg" x="315"/><use href="#sg" x="345"/><use href="#sg" x="375"/><use href="#sg" x="405"/><use href="#sg" x="435"/><use href="#sg" x="465"/>
<use href="#pE" x="480"/><use href="#pE" x="720"/>
<rect class="og" x="240" width="225" height="61"/>
<text class="m" x="0.5" y="-7">117</text><text class="m" x="240.5" y="-7">118</text><text class="m" x="480.5" y="-7">119</text><text class="m" x="720.5" y="-7">120</text>
<text class="s" x="239" y="76.3">92</text><text class="c" x="239" y="89.7">109057</text><text class="p" x="239" y="102.8">37.75%</text>
<text class="s" x="479" y="76.3">325</text><text class="c" x="479" y="89.7">110357</text><text class="p" x="479" y="102.8">62.75%</text>
<text class="s" x="719" y="76.3">400</text><text class="c" x="719" y="89.7">111957</text><text class="p" x="719" y="102.8">62.75%</text>
<text class="s" x="959" y="76.3">400</text><text class="c" x="959" y="89.7">113557</text><text class="p" x="959" y="102.8">62.75%</text>
</g>

<g id="row31" transform="translate(31.3 4435.3)">
<use href="#grid"/>
<rect class="bO" x="780" y="58" width="180" height="6"/>
<use href="#pG8"/><use href="#b"/><use href="#b" x="30"/><use href="#b" x="90"/><use href="#b" x="150"/><use href="#b" x="180"/><use href="#o" x="60"/><use href="#o" x="120"/><use href="#o" x="210"/><use href="#o" x="240"/>
<use href="#pG8" x="240"/><use href="#b" x="270"/><use href="#b" x="300"/><use href="#b" x="330"/><use href="#b" x="360"/><use href="#b" x="390"/><use href="#b" x="420"/><use href="#b" x="450"/>
<use href="#pG8" x="480"/><use href="#b" x="480"/><use href="#b" x="510"/><use href="#b" x="540"/><use href="#b" x="570"/><use href="#o" x="600"/><use href="#o" x="630"/><use href="#o" x="660"/><use href="#o" x="690"/>
<use href="#g" x="735"/><use href="#g" x="765"/><use href="#o" x="720"/><use href="#o" x="750"/><use href="#o" x="780"/>
<text class="m" x="0.5" y="-7">121</text><text class="m" x="240.5" y="-7">122</text><text class="m" x="480.5" y="-7">123</text><text class="m" x="720.5" y="-7">124</text>
<text class="s" x="239" y="76.3">400</text><text class="c" x="239" y="89.7">115157</text><text class="p" x="239" y="102.8">62.75%</text>
<text class="s" x="479" y="76.3">400</text><text class="c" x="479" y="89.7">116757</text><text class="p" x="479" y="102.8">62.75%</text>
<text class="s" x="719" y="76.3">400</text><text class="c" x="719" y="89.7">118357</text><text class="p" x="719" y="102.8">62.75%</text>
<text class="s" x="959" y="76.3">161</text><text class="c" x="959" y="89.7">119001</text><text class="p" x="959" y="102.8">62.75%</text>
</g>

<g id="row32" transform="translate(31.3 4576.3)">
<use href="#grid"/>
<rect class="bO" x="0" y="58" width="45" height="6"/><rect class="bY" x="60" y="27.5" width="225" height="6"/><rect class="bG" x="300" y="-3" width="60" height="6"/><rect class="bR" x="360" y="12.25" width="495" height="6"/>
<use href="#y" x="60"/><use href="#g" x="300"/><use href="#r" x="360"/>
<use href="#y" x="870"/><use href="#g" x="885"/><use href="#y" x="900"/><use href="#g" x="915"/><use href="#b" x="930"/><use href="#g" x="945"/>
<rect class="ob" x="588" width="372" height="61"/>
<text class="m" x="0.5" y="-7">125</text><text class="m" x="240.5" y="-7">126</text><text class="m" x="480.5" y="-7">127</text><text class="m" x="720.5" y="-7">128</text>
<text class="s" x="239" y="76.3">70</text><text class="c" x="239" y="89.7">119281</text><text class="p" x="239" y="102.8">62.75%</text>
<text class="s" x="479" y="76.3">95</text><text class="c" x="479" y="89.7">119661</text><text class="p" x="479" y="102.8">62.75%</text>
<text class="s" x="719" y="76.3">48</text><text class="c" x="719" y="89.7">119961</text><text class="p" x="719" y="102.8">55.96%</text>
<text class="s" x="959" y="76.3">177</text><text class="c" x="959" y="89.7">121377</text><text class="p" x="959" y="102.8">43.46%</text>
</g>

<g id="row33" transform="translate(31.3 4717.3)">
<use href="#grid"/>
<rect class="bO" x="240" y="58" width="465" height="6"/>
<use href="#sG8"/><use href="#sb"/><use href="#sb" x="30"/><use href="#sb" x="60"/><use href="#sb" x="90"/><use href="#sb" x="120"/><use href="#sb" x="150"/><use href="#sy" x="180"/><use href="#sy" x="210"/>
<use href="#o" x="240"/>
<use href="#pG8" x="720"/><use href="#b" x="720"/><use href="#b" x="750"/><use href="#b" x="780"/><use href="#b" x="810"/><use href="#b" x="840"/><use href="#b" x="870"/><use href="#b" x="900"/><use href="#o" x="930"/>
<rect class="og" width="225" height="61"/>
<rect class="ob" width="960" height="61"/>
<text class="m" x="0.5" y="-7">129</text><text class="m" x="240.5" y="-7">130</text><text class="m" x="480.5" y="-7">131</text><text class="m" x="720.5" y="-7">132</text>
<text class="s" x="239" y="76.3">400</text><text class="c" x="239" y="89.7">124577</text><text class="p" x="239" y="102.8">55.96%</text>
<text class="s" x="479" y="76.3">73</text><text class="c" x="479" y="89.7">125161</text><text class="p" x="479" y="102.8">43.46%</text>
<text class="s" x="719" y="76.3">45</text><text class="c" x="719" y="89.7">125521</text><text class="p" x="719" y="102.8">30.96%</text>
<text class="s" x="959" y="76.3">400</text><text class="c" x="959" y="89.7">128721</text><text class="p" x="959" y="102.8">18.46%</text>
</g>

<g id="row34" transform="translate(31.3 4858.3)">
<use href="#grid"/>
<use href="#o"/><use href="#pG8"/><use href="#b" x="30"/><use href="#b" x="120"/><use href="#b" x="150"/><use href="#y" x="60"/><use href="#y" x="90"/><use href="#y" x="180"/><use href="#y" x="210"/>
<use href="#pE" x="240"/><use href="#pE" x="480"/><use href="#pE" x="720"/>
<rect class="ob" width="960" height="61"/>
<text class="m" x="0.5" y="-7">133</text><text class="m" x="240.5" y="-7">134</text><text class="m" x="480.5" y="-7">135</text><text class="m" x="720.5" y="-7">136</text>
<text class="s" x="239" y="76.3">400</text><text class="c" x="239" y="89.7">131921</text><text class="p" x="239" y="102.8">5.96%</text>
<text class="s" x="479" y="76.3">400</text><text class="c" x="479" y="89.7">135121</text><text class="p" x="479" y="102.8">0.00%</text>
<text class="s" x="719" y="76.3">400</text><text class="c" x="719" y="89.7">138321</text><text class="p" x="719" y="102.8">0.00%</text>
<text class="s" x="959" y="76.3">400</text><text class="c" x="959" y="89.7">141521</text><text class="p" x="959" y="102.8">0.00%</text>
</g>

<g id="row35" transform="translate(31.3 4999.3)">
<use href="#grid"/>
<rect class="bR" x="120" y="12.25" width="165" height="6"/><rect class="bG" x="300" y="-3" width="660" height="6"/>
<use href="#g" x="15"/><use href="#g" x="45"/><use href="#g" x="75"/><use href="#g" x="105"/><use href="#b"/><use href="#b" x="30"/><use href="#b" x="60"/><use href="#b" x="90"/><use href="#r" x="120"/><use href="#g" x="300"/>
<rect class="ob" width="108" height="61"/>
<rect class="or" x="108" width="12" height="61"/>
<text class="m" x="0.5" y="-7">137</text><text class="m" x="240.5" y="-7">138</text><text class="m" x="480.5" y="-7">139</text><text class="m" x="720.5" y="-7">140</text>
<text class="s" x="239" y="76.3">249</text><text class="c" x="239" y="89.7">143417</text><text class="p" x="239" y="102.8">0.00%</text>
<text class="s" x="479" y="76.3">70</text><text class="c" x="479" y="89.7">143697</text><text class="p" x="479" y="102.8">0.00%</text>
<text class="s" x="719" y="76.3">48</text><text class="c" x="719" y="89.7">143889</text><text class="p" x="719" y="102.8">0.00%</text>
<text class="s" x="959" y="76.3">48</text><text class="c" x="959" y="89.7">144081</text><text class="p" x="959" y="102.8">0.00%</text>
</g>

<g id="row36" transform="translate(31.3 5140.3)">
<use href="#grid36"/>
<rect class="bG" x="0" y="-3" width="435" height="6"/>
<text class="m" x="0.5" y="-7">141</text><text class="m" x="240.5" y="-7">142</text>
<text class="s" x="239" y="76.3">48</text><text class="c" x="239" y="89.7">144273</text><text class="p" x="239" y="102.8">0.00%</text>
<text class="s" x="479" y="76.3">39</text><text class="c" x="479" y="89.7">144429</text><text class="p" x="479" y="102.8">0.00%</text>
</g>
</g>
</svg>
